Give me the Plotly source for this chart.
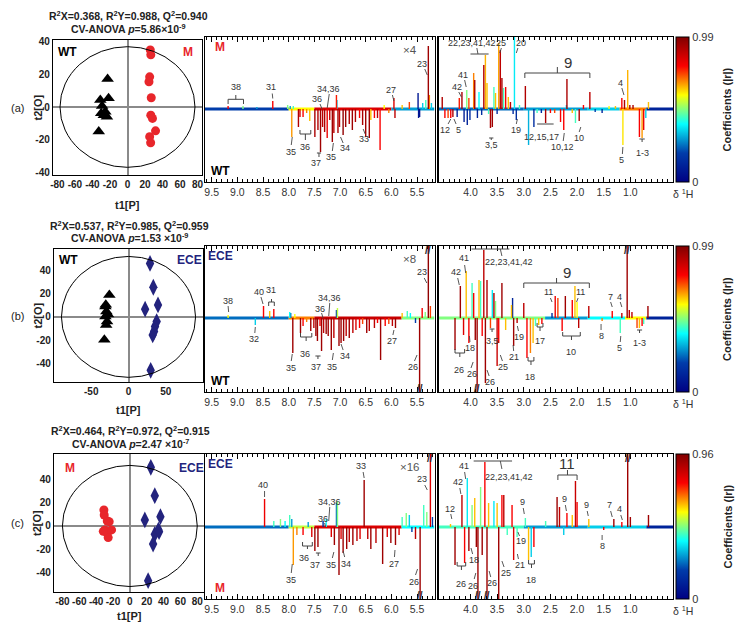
import plotly.graph_objects as go
from plotly.colors import sample_colorscale

W, H = 737, 622
FONT = "Liberation Sans, Arial, sans-serif"
GRAY = "#333333"

def px(x):
    return x / W

def py(y):
    return 1 - y / H

# ---------------- score plot data ----------------
a_wt_x = [-22.7, -21.6, -31, -29, -30, -25.3, -23.5, -27, -32.8]
a_wt_y = [17.2, 5.3, 4.3, 0.6, -3.9, -2.9, -6, -5, -15]
a_m_x = [26, 26.6, 25.3, 24.5, 27.1, 26.6, 28.5, 32, 25.3, 26.4]
a_m_y = [35, 32, 18.5, 15.5, 5.7, -5, -7, -14.6, -18.2, -21.9]

b_wt_x = [-25.7, -31, -29.7, -31, -28.8, -30, -27.5, -32.4, -30.5]
b_wt_y = [18.9, 8.9, 4.6, 0.3, -4, -7, 2, -19.7, 10.5]
b_ece_x = [28.9, 33.3, 39.6, 22.3, 37.8, 35.6, 34.3, 32.5, 29.8]
b_ece_y = [46, 25.5, 10.3, 6.6, -4, -8.3, -12.6, -15.5, -46]

c_m_x = [-30.8, -30.4, -26.8, -24.5, -29.6, -21.7, -26.8, -25.7, -31.5]
c_m_y = [13.7, 9.4, 4.3, 3.7, -3.4, -3.4, -6.3, -10, -4.6]
c_ece_x = [24.9, 29.6, 36.3, 17.8, 34.7, 29.6, 27.6, 21.7, 33.9]
c_ece_y = [50.4, 26, 8, 5.2, -4.9, -7.2, -15.5, -47, -3.5]

ellipse_rx = [77, 90, 80]
ellipse_ry = [37, 52, 52]

titles_line1 = ["R<sup>2</sup>X=0.368, R<sup>2</sup>Y=0.988, Q<sup>2</sup>=0.940",
                "R<sup>2</sup>X=0.537, R<sup>2</sup>Y=0.985, Q<sup>2</sup>=0.959",
                "R<sup>2</sup>X=0.464, R<sup>2</sup>Y=0.972, Q<sup>2</sup>=0.915"]
titles_line2 = ["CV-ANOVA <i>p</i>=5.86×10<sup>-9</sup>",
                "CV-ANOVA <i>p</i>=1.53 ×10<sup>-9</sup>",
                "CV-ANOVA <i>p</i>=2.47 ×10<sup>-7</sup>"]
cbar_max = [0.99, 0.99, 0.96]
scale_factors = ["×4", "×8", "×16"]

# ---------------- loading (spectral) data: ppm, intensity, |r| ----------------
aL_ppm = [9.18, 8.89, 8.62, 8.31, 8.02, 7.97, 7.94, 7.91, 7.81, 7.78, 7.72, 7.65, 7.59, 7.49, 7.43, 7.38, 7.34, 7.30,
          7.25, 7.20, 7.15, 7.12, 7.07, 7.06, 7.04, 7.01, 6.94, 6.89, 6.82, 6.76, 6.70, 6.62, 6.56, 6.50, 6.43, 6.40,
          6.33, 6.27, 6.22, 6.14, 6.05, 5.95, 5.93, 5.79, 5.65, 5.48, 5.47, 5.45, 5.39, 5.33, 5.28, 5.26, 5.22]
aL_int = [3, 3, 2, 8, 4, 3, -28, 3, -18, -8, -8, -4, -12, -28, -21, -43, -18, -23,
          -29, -11, -33, -24, 14, 9, -24, -18, -26, -18, -15, -21, -13, -9, -16, -28, -29, -11,
          -9, -9, -41, 4, -4, 11, -9, 4, 7, 16, -9, -8, 6, 9, 63, 14, 6]
aL_r = [0.8, 0.5, 0.3, 0.8, 0.5, 0.3, 0.68, 0.45, 0.92, 0.85, 0.8, 0.7, 0.65, 0.93, 0.92, 0.95, 0.9, 0.93,
        0.82, 0.9, 0.95, 0.9, 0.78, 0.35, 0.93, 0.9, 0.97, 0.95, 0.92, 0.95, 0.92, 0.8, 0.93, 0.95, 0.95, 0.65,
        0.8, 0.9, 0.8, 0.6, 0.7, 0.85, 0.9, 0.65, 0.75, 0.08, 0.08, 0.05, 0.35, 0.45, 0.95, 0.7, 0.35]

aR_ppm = [4.53, 4.48, 4.42, 4.37, 4.33, 4.25, 4.21, 4.16, 4.12, 4.07, 4.06, 4.03, 4.01, 3.94, 3.92, 3.87, 3.84, 3.79,
          3.75, 3.72, 3.69, 3.66, 3.625, 3.59, 3.56, 3.53, 3.50, 3.47, 3.44, 3.41, 3.38, 3.34, 3.29, 3.25, 3.20, 3.175,
          3.14, 3.08, 2.97, 2.91, 2.81, 2.75, 2.67, 2.59, 2.50, 2.42, 2.31, 2.25, 2.20, 2.19, 2.09, 2.03, 1.96, 1.88,
          1.76, 1.66, 1.53, 1.40, 1.28, 1.16, 1.14, 1.11, 1.05, 1.01, 0.95, 0.83, 0.78, 0.75, 0.71, 0.66]
aR_int = [12, -9, -9, -9, -8, -8, 11, 17, -13, 19, -16, 11, -11, 36, 29, -9, 17, -6,
          44, 54, 26, -5, -19, -18, 22, 16, -5, 66, 59, 31, 21, 22, 12, 7, -5, 90,
          -11, 4, 23, -36, -18, -4, -4, -14, -4, -4, -13, -21, 4, 30, -4, -14, -12, 4,
          17, -3, -4, 3, 3, 11, -36, 9, 39, 4, 4, -28, -29, -21, -9, 7]
aR_r = [0.92, 0.8, 0.75, 0.8, 0.92, 0.1, 0.78, 0.93, 0.1, 0.5, 0.12, 0.75, 0.15, 0.7, 0.93, 0.12, 0.4, 0.15,
        0.92, 0.66, 0.65, 0.45, 0.93, 0.95, 0.45, 0.65, 0.15, 0.67, 0.9, 0.93, 0.45, 0.8, 0.65, 0.9, 0.15, 0.38,
        0.15, 0.45, 0.92, 0.32, 0.15, 0.45, 0.15, 0.93, 0.8, 0.75, 0.8, 0.8, 0.35, 0.93, 0.65, 0.45, 0.93, 0.8,
        0.9, 0.2, 0.12, 0.6, 0.65, 0.8, 0.62, 0.93, 0.66, 0.93, 0.93, 0.8, 0.68, 0.82, 0.35, 0.65]

bL_ppm = [9.18, 8.65, 8.49, 8.37, 8.29, 7.98, 7.96, 7.92, 7.88, 7.77, 7.72, 7.65, 7.57, 7.51, 7.47, 7.44, 7.39, 7.36,
          7.32, 7.27, 7.23, 7.17, 7.12, 7.07, 7.05, 7.02, 6.98, 6.93, 6.88, 6.82, 6.75, 6.69, 6.62, 6.56, 6.48, 6.43,
          6.33, 6.27, 6.21, 6.12, 6.05, 5.98, 5.92, 5.79, 5.69, 5.63, 5.53, 5.45, 5.40, 5.34, 5.28, 5.24]
bL_int = [3, -7, 12, 7, 9, 6, 5, -35, 4, -15, -8, -4, -13, -10, -18, -23, -8, -33,
          -15, -16, -18, -32, -20, 8, 10, -28, -25, -23, -18, -20, -15, -12, -10, -6, -15, -13,
          -10, -5, -42, -8, -6, -8, -10, 5, 7, 5, -5, -90, 10, 6, 90, 12]
bL_r = [0.6, 0.35, 0.8, 0.65, 0.8, 0.4, 0.25, 0.95, 0.6, 0.95, 0.8, 0.7, 0.95, 0.9, 0.95, 0.95, 0.8, 0.95,
        0.9, 0.95, 0.95, 0.95, 0.9, 0.2, 0.55, 0.95, 0.95, 0.95, 0.9, 0.95, 0.9, 0.85, 0.8, 0.75, 0.95, 0.9,
        0.9, 0.8, 0.95, 0.8, 0.75, 0.9, 0.95, 0.65, 0.45, 0.4, 0.2, 0.95, 0.8, 0.5, 0.97, 0.75]

bR_ppm = [4.29, 4.19, 4.13, 4.08, 4.03, 3.97, 3.94, 3.91, 3.875, 3.84, 3.81, 3.78, 3.75, 3.72, 3.69, 3.625, 3.59,
          3.56, 3.53, 3.50, 3.47, 3.41, 3.34, 3.23, 3.21, 3.19, 3.125, 3.00, 2.94, 2.875, 2.825, 2.78, 2.72, 2.66,
          2.47, 2.41, 2.36, 2.28, 2.22, 2.09, 2.04, 2.00, 1.97, 1.78, 1.53, 1.34, 1.19, 1.16, 1.06, 1.02, 0.97,
          0.875, 0.83, 0.78, 0.75, 0.67]
bR_int = [-32, 32, -17, 47, -25, 35, 25, -22, -90, 38, 37, -18, 68, -65, 38, -10, 28,
          25, 17, -48, -25, 35, -12, 13, 20, -28, -5, 15, -40, -35, -25, -8, -7, -6,
          5, 22, 20, -13, 22, 18, 32, 16, -10, 12, -3, 7, -15, 5, 90, 8, 6,
          -10, -10, -8, -6, 12]
bR_r = [0.95, 0.95, 0.85, 0.65, 0.8, 0.45, 0.8, 0.95, 0.95, 0.65, 0.45, 0.8, 0.9, 0.95, 0.92, 0.75, 0.38,
        0.93, 0.5, 0.88, 0.8, 0.95, 0.65, 0.65, 0.12, 0.95, 0.9, 0.9, 0.8, 0.7, 0.65, 0.45, 0.65, 0.8,
        0.15, 0.82, 0.75, 0.8, 0.95, 0.8, 0.65, 0.6, 0.9, 0.9, 0.7, 0.8, 0.45, 0.9, 0.95, 0.9, 0.9,
        0.75, 0.65, 0.8, 0.45, 0.95]

cL_ppm = [8.47, 8.29, 8.16, 8.07, 7.98, 7.94, 7.91, 7.84, 7.72, 7.62, 7.55, 7.49, 7.43, 7.33, 7.27, 7.17, 7.11,
          7.07, 7.05, 7.02, 6.98, 6.94, 6.87, 6.82, 6.75, 6.67, 6.61, 6.53, 6.46, 6.40, 6.30, 6.17, 6.08, 6.01,
          5.92, 5.85, 5.79, 5.71, 5.65, 5.60, 5.53, 5.44, 5.37, 5.31, 5.24, 5.20]
cL_int = [28, 6, 8, 6, 12, 8, -38, -8, -8, 5, -10, -24, -20, 6, 8, -10, -18,
          24, 26, -48, -12, -26, -22, -15, -18, -14, -12, 47, -12, -22, -16, -37, -10, -16,
          -18, -8, 10, 14, 12, -5, -12, -90, 22, 15, 90, 10]
cL_r = [0.82, 0.45, 0.5, 0.4, 0.45, 0.3, 0.68, 0.7, 0.8, 0.3, 0.85, 0.95, 0.95, 0.15, 0.4, 0.85, 0.95,
        0.25, 0.5, 0.95, 0.85, 0.95, 0.95, 0.9, 0.95, 0.9, 0.85, 0.95, 0.9, 0.95, 0.9, 0.95, 0.85, 0.95,
        0.95, 0.85, 0.45, 0.5, 0.35, 0.2, 0.9, 0.95, 0.45, 0.5, 0.85, 0.2]

cR_ppm = [4.375, 4.29, 4.16, 4.11, 4.06, 4.03, 3.97, 3.92, 3.89, 3.86, 3.81, 3.78, 3.73, 3.69, 3.66, 3.56, 3.50,
          3.47, 3.41, 3.375, 3.31, 3.22, 3.19, 3.125, 2.97, 2.91, 2.86, 2.81, 2.59, 2.375, 2.33, 2.25, 2.19, 2.09,
          2.03, 2.00, 1.78, 1.50, 1.31, 1.16, 1.05, 1.00, 0.66]
cR_int = [3, -38, 32, -36, 49, -24, 22, 29, -20, -90, 40, -28, 65, -90, 24, 26, 24,
          -90, 32, 32, -8, 22, -33, -10, 9, -33, -30, -20, 6, 30, 20, -8, 14, 12,
          46, 25, 8, -3, 8, 5, 90, 10, 12]
cR_r = [0.65, 0.95, 0.9, 0.8, 0.38, 0.95, 0.5, 0.65, 0.95, 0.95, 0.5, 0.95, 0.8, 0.95, 0.65, 0.38, 0.65,
        0.95, 0.8, 0.9, 0.45, 0.8, 0.85, 0.45, 0.45, 0.65, 0.35, 0.8, 0.45, 0.95, 0.9, 0.35, 0.8, 0.65,
        0.88, 0.8, 0.65, 0.8, 0.95, 0.8, 0.95, 0.95, 0.95]

# baseline segments: start ppm, end ppm, |r|
aL_base = [(9.63, 8.0, 0.2), (8.0, 7.5, 0.6), (7.5, 6.0, 0.85), (6.0, 5.16, 0.3)]
aR_base = [(4.6, 3.0, 0.25), (3.0, 1.8, 0.3), (1.8, 1.2, 0.35), (1.2, 0.7, 0.7), (0.7, 0.2, 0.12)]
bL_base = [(9.63, 8.0, 0.25), (8.0, 7.5, 0.7), (7.5, 5.8, 0.88), (5.8, 5.16, 0.5)]
bR_base = [(4.6, 3.0, 0.5), (3.0, 2.6, 0.5), (2.6, 1.8, 0.3), (1.8, 1.1, 0.4), (1.1, 0.7, 0.6), (0.7, 0.2, 0.12)]
cL_base = [(9.63, 8.0, 0.25), (8.0, 7.5, 0.55), (7.5, 5.8, 0.85), (5.8, 5.16, 0.4)]
cR_base = [(4.6, 3.0, 0.45), (3.0, 1.8, 0.3), (1.8, 0.7, 0.35), (0.7, 0.2, 0.12)]

left_ticks = [9.5, 9.0, 8.5, 8.0, 7.5, 7.0, 6.5, 6.0, 5.5]
right_ticks = [4.0, 3.5, 3.0, 2.5, 2.0, 1.5, 1.0]

# ---------------- annotation specs ----------------
labels = {
    "aL": [(9.03, 22, "38"), (8.34, 22, "31"), (7.22, 20, "34,36"), (7.44, 10, "36"), (6.0, 19, "27"),
           (5.4, 45, "23"), (7.96, -43, "35"), (7.68, -38, "36"), (7.46, -54, "37"), (7.17, -48, "35"),
           (6.91, -39, "34"), (6.53, -30, "33")],
    "aR": [(3.97, 66, "22,23,41,42"), (3.42, 66, "25"), (3.05, 66, "20"), (4.14, 34, "41"), (4.25, 22, "42"),
           (4.47, -21, "12"), (4.23, -21, "5"), (3.61, -36, "3,5"), (3.14, -21, "19"), (2.66, -28, "12,15,17"),
           (2.28, -38, "10,12"), (1.96, -29, "10"), (1.18, 26, "4"), (1.16, -51, "5"), (0.78, -44, "1-3")],
    "bL": [(5.4, 46, "23"), (9.19, 17, "38"), (8.58, 26, "40"), (8.34, 28, "31"), (7.2, 20, "34,36"),
           (7.39, 9, "36"), (8.67, -21, "32"), (7.96, -50, "35"), (7.68, -36, "36"), (7.46, -49, "37"),
           (7.16, -49, "35"), (6.91, -38, "34"), (5.98, -23, "27"), (5.58, -49, "26")],
    "bR": [(3.27, 56, "22,23,41,42"), (4.13, 60, "41"), (4.27, 46, "42"), (2.53, 26, "11"), (1.94, 26, "11"),
           (1.38, 21, "7"), (1.2, 21, "4"), (4.0, -30, "18"), (4.21, -52, "26"), (3.98, -56, "26"),
           (3.63, -64, "26"), (3.59, -23, "3,5"), (3.09, -19, "19"), (3.18, -39, "21"), (3.39, -49, "25"),
           (2.875, -59, "18"), (2.7, -23, "17"), (2.11, -34, "10"), (1.55, -18, "8"), (1.2, -30, "5"),
           (0.83, -25, "1-3")],
    "cL": [(5.4, 48, "23"), (8.5, 42, "40"), (6.6, 61, "33"), (7.2, 25, "34,36"), (7.34, 8, "36"),
           (7.95, -53, "35"), (7.71, -31, "36"), (7.49, -38, "37"), (7.17, -38, "35"), (6.88, -37, "34"),
           (5.94, -37, "27"), (5.56, -55, "26")],
    "cR": [(4.39, 18, "12"), (4.23, 45, "42"), (4.13, 61, "41"), (3.27, 50, "22,23,41,42"), (3.03, 25, "9"),
           (2.24, 28, "9"), (1.83, 22, "9"), (1.39, 22, "7"), (1.2, 18, "4"), (3.94, -33, "18"),
           (4.18, -57, "26"), (3.96, -59, "26"), (3.59, -56, "26"), (3.34, -46, "25"), (3.05, -14, "19"),
           (3.08, -38, "21"), (2.86, -53, "18"), (1.53, -19, "8")],
}
big_labels = {"aR": [(2.175, 46, "9")], "bR": [(2.19, 46, "9")], "cR": [(2.19, 64, "11")]}
# brackets: ppm0, ppm1, level, end-tick length, centre-stem length
brackets = {
    "aL": [(9.18, 8.88, 9.7, -4.7, 4.3), (7.78, 7.57, -25, 4, -6), (7.45, 7.37, -44, 0, -4)],
    "aR": [(4.0, 3.66, 55, 0, 0), (2.98, 1.76, 36, -5, 6), (2.75, 2.44, -15, 0, 0), (3.65, 3.57, -29, 0, -2),
           (0.83, 0.73, -30, 0, -3)],
    "bL": [(8.39, 8.28, 16, -4, 3), (7.77, 7.55, -19, 4, -4), (7.48, 7.38, -38, 0, -3)],
    "bR": [(3.98, 3.27, 69, 0, 0), (3.0, 1.77, 35, -5, 5), (4.29, 4.11, -35, 4, -4), (3.64, 3.55, -11, 0, -3),
           (2.92, 2.81, -43, 4, -4), (2.75, 2.64, -9, 4, -4), (2.27, 1.94, -18, 4, -4), (0.875, 0.78, -12, 0, -3)],
    "cL": [(7.73, 7.54, -19, 4, -3), (7.47, 7.38, -26, 0, -3)],
    "cR": [(3.94, 3.22, 66, 0, 0), (2.36, 2.0, 52, -5, 5), (4.25, 4.09, -39, 4, -4), (2.91, 2.80, -37, 4, -4)],
}
leaders = {
    "aL": [(8.32, 15.5, 8.31, 10.5), (7.21, 15, 7.25, 1), (7.39, 5, 7.35, 0), (5.98, 14, 5.95, 8),
           (5.35, 40, 5.3, 34), (7.95, -36, 7.93, -28), (7.15, -42, 7.13, -34), (6.94, -34, 6.99, -28),
           (6.51, -25, 6.55, -20)],
    "aR": [(3.88, 61, 3.86, 55), (3.45, 56, 3.42, 61), (3.14, 56, 3.11, 61), (4.11, 29, 4.08, 22),
           (4.22, 17, 4.17, 12), (4.42, -15, 4.37, -10), (4.27, -15, 4.31, -10), (3.14, -15, 3.12, -10),
           (2.26, -32, 2.24, -24), (1.96, -23, 1.93, -18), (1.16, 21, 1.12, 14), (1.15, -45, 1.14, -38)],
    "bL": [(9.18, 12, 9.17, 6), (8.54, 21, 8.5, 14), (7.2, 15, 7.22, 2), (7.36, 5, 7.33, 0),
           (8.66, -15, 8.65, -9), (7.95, -43, 7.93, -36), (7.15, -42, 7.13, -35), (6.94, -32, 6.98, -26),
           (5.97, -17, 5.95, -12), (5.55, -43, 5.5, -37), (5.36, 40, 5.31, 35)],
    "bR": [(3.44, 69, 3.41, 62), (4.11, 53, 4.09, 45), (4.24, 40, 4.21, 33), (2.5, 20, 2.47, 16),
           (1.98, 20, 2.01, 16), (1.37, 16, 1.34, 11), (1.19, 16, 1.16, 11), (4.01, -24, 4.02, -18),
           (3.99, -50, 3.95, -44), (3.65, -58, 3.69, -52), (3.1, -13, 3.12, -8), (3.19, -33, 3.2, -27),
           (3.4, -43, 3.44, -37), (1.55, -12, 1.55, -6), (1.19, -24, 1.18, -18)],
    "cL": [(8.47, 36, 8.47, 30), (6.55, 55, 6.53, 49), (7.2, 20, 7.22, 6), (7.3, 4, 7.28, 0),
           (7.95, -46, 7.93, -37), (7.15, -31, 7.12, -25), (6.91, -30, 6.94, -24), (5.94, -30, 5.93, -23),
           (5.53, -48, 5.49, -42), (5.35, 42, 5.3, 37)],
    "cR": [(4.37, 13, 4.35, 8), (4.2, 39, 4.18, 33), (4.11, 55, 4.09, 48), (3.44, 66, 3.41, 58),
           (3.01, 19, 2.99, 13), (2.22, 22, 2.2, 16), (1.81, 16, 1.79, 11), (1.37, 16, 1.34, 10),
           (1.18, 12, 1.15, 7), (3.96, -27, 3.99, -21), (3.93, -52, 3.9, -46), (3.62, -50, 3.65, -44),
           (3.37, -40, 3.41, -34), (3.08, -9, 3.11, -5), (3.1, -32, 3.12, -27), (1.53, -13, 1.53, -8)],
}
breaks = {"bL": [(5.45, -1), (5.28, 1)], "bR": [(3.875, -1), (1.06, 1)],
          "cL": [(5.44, -1), (5.24, 1)], "cR": [(3.86, -1), (3.69, -1), (1.05, 1)]}

# ---------------- layout geometry (pixels) ----------------
score_box = [(53, 202, 40, 175), (54, 203, 249, 382), (54, 204, 454, 592)]
score_xr = [[-85, 85], [-100, 100], [-90, 88]]
score_yr = [[-41.7, 41.1], [-56, 58.4], [-56.7, 61.8]]
score_xt = [[-80, -60, -40, -20, 0, 20, 40, 60, 80], [-50, 0, 50], [-80, -60, -40, -20, 0, 20, 40, 60, 80]]
score_yt = [-40, -20, 0, 20, 40]
t1_y = [205, 410, 616]
spec_y = [(37, 182), (246, 392), (454, 599)]
spec_yr = [[-73, 72], [-74, 72], [-72, 73]]
specL_x = (205, 434.5)
specR_x = (438.5, 673)
cbar_x = (676, 689)

fig = go.Figure()
layout = dict(width=W, height=H, margin=dict(l=0, r=0, t=0, b=0, pad=0, autoexpand=False),
              paper_bgcolor="white", plot_bgcolor="white", showlegend=False,
              font=dict(family=FONT, color=GRAY))
annotations = []
shapes = []

def aname(k, a):
    return f"{a}axis" if k == 1 else f"{a}axis{k}"

def rname(k, a):
    return a if k == 1 else f"{a}{k}"

def note(x, y, text, size=10, color=GRAY, xref="paper", yref="paper", angle=0):
    annotations.append(dict(x=x, y=y, xref=xref, yref=yref, text=text, showarrow=False, textangle=angle,
                            xanchor="center", yanchor="middle", font=dict(size=size, color=color, family=FONT)))

panel_data = {
    "aL": (aL_ppm, aL_int, aL_r, aL_base), "aR": (aR_ppm, aR_int, aR_r, aR_base),
    "bL": (bL_ppm, bL_int, bL_r, bL_base), "bR": (bR_ppm, bR_int, bR_r, bR_base),
    "cL": (cL_ppm, cL_int, cL_r, cL_base), "cR": (cR_ppm, cR_int, cR_r, cR_base),
}
row_keys = ["a", "b", "c"]
score_sets = [
    [(a_wt_x, a_wt_y, "triangle-up", "black", 11), (a_m_x, a_m_y, "circle", "#e8262b", 9)],
    [(b_wt_x, b_wt_y, "triangle-up", "black", 11), (b_ece_x, b_ece_y, "diamond-tall", "#23237d", 12)],
    [(c_m_x, c_m_y, "circle", "#e8262b", 9), (c_ece_x, c_ece_y, "diamond-tall", "#23237d", 12)],
]
group_labels = [
    [(-69, 34, "WT", "black"), (69, 34, "M", "#e8262b")],
    [(-80, 49, "WT", "black"), (82, 49, "ECE", "#23237d")],
    [(-71, 50, "M", "#e8262b"), (73, 50, "ECE", "#23237d")],
]
spec_group_labels = [("M", "#e8262b", "WT", "black"), ("ECE", "#23237d", "WT", "black"),
                     ("ECE", "#23237d", "M", "#e8262b")]

def col(r):
    return sample_colorscale("Jet", [r])[0]

def hy(v):
    return str(v).replace("−", "-")

for ri, rk in enumerate(row_keys):
    # ---- score plot ----
    k = ri * 3 + 1
    x0, x1, y0, y1 = score_box[ri]
    tf = dict(size=10, color="#222", family=FONT, weight="bold")
    layout[aname(k, "x")] = dict(domain=[px(x0), px(x1)], range=score_xr[ri], anchor=rname(k, "y"),
                                 showline=True, mirror=True, linecolor="black", linewidth=1.2,
                                 showgrid=False, zeroline=True, zerolinecolor="#8a8a8a", zerolinewidth=2,
                                 tickvals=score_xt[ri], ticktext=[hy(v) for v in score_xt[ri]],
                                 ticks="", tickangle=0, tickfont=tf, automargin=False)
    layout[aname(k, "y")] = dict(domain=[py(y1), py(y0)], range=score_yr[ri], anchor=rname(k, "x"),
                                 showline=True, mirror=True, linecolor="black", linewidth=1.2,
                                 showgrid=False, zeroline=True, zerolinecolor="#8a8a8a", zerolinewidth=2,
                                 tickvals=score_yt, ticktext=[hy(v) for v in score_yt],
                                 ticks="", tickfont=tf, automargin=False)
    shapes.append(dict(type="circle", xref=rname(k, "x"), yref=rname(k, "y"),
                       x0=-ellipse_rx[ri], x1=ellipse_rx[ri], y0=-ellipse_ry[ri], y1=ellipse_ry[ri],
                       line=dict(color="black", width=1)))
    for xs, ys, sym, c, sz in score_sets[ri]:
        fig.add_trace(go.Scatter(x=xs, y=ys, mode="markers", xaxis=rname(k, "x"), yaxis=rname(k, "y"),
                                 marker=dict(symbol=sym, color=c, size=sz, line=dict(width=0)),
                                 hoverinfo="skip"))
    for gx, gy, gt, gc in group_labels[ri]:
        note(gx, gy, f"<b>{gt}</b>", 12, gc, rname(k, "x"), rname(k, "y"))
    cx = (x0 + x1) / 2 + 1
    note(px(cx), py(y0 - 24), f"<b>{titles_line1[ri]}</b>", 10.5, "#222")
    note(px(cx), py(y0 - 11), f"<b>{titles_line2[ri]}</b>", 10.5, "#222")
    note(px(17), py((y0 + y1) / 2), f"({rk})", 11, "#222")
    note(px((x0 + x1) / 2), py(t1_y[ri]), "<b>t1[P]</b>", 11, "#222")
    note(px(37), py((y0 + y1) / 2), "<b>t2[O]</b>", 11, "#222", angle=-90)

    # ---- spectra ----
    sy0, sy1 = spec_y[ri]
    for j, side in enumerate(["L", "R"]):
        k = ri * 3 + 2 + j
        key = rk + side
        xdom = specL_x if side == "L" else specR_x
        xr = [9.63, 5.16] if side == "L" else [4.6, 0.2]
        tks = left_ticks if side == "L" else right_ticks
        layout[aname(k, "x")] = dict(domain=[px(xdom[0]), px(xdom[1])], range=xr, anchor=rname(k, "y"),
                                     showline=True, mirror="ticks", linecolor="black", linewidth=1.3,
                                     showgrid=False, zeroline=False, automargin=False,
                                     tickvals=tks, ticktext=[f"{v:.1f}" for v in tks], tickangle=0,
                                     ticks="inside", ticklen=5, tickcolor="black", tickwidth=1,
                                     minor=dict(tickmode="linear", tick0=0, dtick=0.1, ticks="inside",
                                                ticklen=3, tickcolor="black", tickwidth=1),
                                     tickfont=dict(size=10.5, color=GRAY, family=FONT))
        layout[aname(k, "y")] = dict(domain=[py(sy1), py(sy0)], range=spec_yr[ri], anchor=rname(k, "x"),
                                     showline=True, mirror=True, linecolor="black", linewidth=1.3,
                                     showgrid=False, zeroline=False, showticklabels=False, ticks="",
                                     automargin=False)
        ppm, inten, rr, base = panel_data[key]
        xa, ya = rname(k, "x"), rname(k, "y")
        for b0, b1, br in base:
            fig.add_trace(go.Scatter(x=[b0, b1], y=[0, 0], mode="lines", xaxis=xa, yaxis=ya,
                                     line=dict(color=col(br), width=3), hoverinfo="skip"))
        groups = {}
        for p, h, r in zip(ppm, inten, rr):
            groups.setdefault(r, []).append((p, h))
        for r in sorted(groups):
            xs, ys = [], []
            for p, h in groups[r]:
                xs += [p, p, None]
                ys += [0, h, None]
            fig.add_trace(go.Scatter(x=xs, y=ys, mode="lines", xaxis=xa, yaxis=ya,
                                     line=dict(color=col(r), width=1.4), hoverinfo="skip"))
        for lx, ly, lt in labels.get(key, []):
            note(lx, ly, lt, 9, GRAY, xa, ya)
        for lx, ly, lt in big_labels.get(key, []):
            note(lx, ly, lt, 15, GRAY, xa, ya)
        for p0, p1, lv, e, s in brackets.get(key, []):
            shapes.append(dict(type="line", xref=xa, yref=ya, x0=p0, x1=p1, y0=lv, y1=lv,
                               line=dict(color="#444", width=1)))
            if e:
                for pe in (p0, p1):
                    shapes.append(dict(type="line", xref=xa, yref=ya, x0=pe, x1=pe, y0=lv, y1=lv + e,
                                       line=dict(color="#444", width=1)))
            if s:
                pm = (p0 + p1) / 2
                shapes.append(dict(type="line", xref=xa, yref=ya, x0=pm, x1=pm, y0=lv, y1=lv + s,
                                   line=dict(color="#444", width=1)))
        for a0, h0, a1, h1 in leaders.get(key, []):
            shapes.append(dict(type="line", xref=xa, yref=ya, x0=a0, x1=a1, y0=h0, y1=h1,
                               line=dict(color="#444", width=0.9)))
        for bp, bsgn in breaks.get(key, []):
            yb = (spec_yr[ri][1] - 4) if bsgn > 0 else (spec_yr[ri][0] + 4)
            note(bp, yb, "<b>//</b>", 10, "#222", xa, ya)
        if side == "L":
            tl, tc, bl, bc = spec_group_labels[ri]
            note(9.33, spec_yr[ri][1] - 10, f"<b>{tl}</b>", 12, tc, xa, ya)
            note(9.33, spec_yr[ri][0] + 11, f"<b>{bl}</b>", 12, bc, xa, ya)
            note(5.64, spec_yr[ri][1] - 13, scale_factors[ri], 11.5, "#555", xa, ya)
    # delta label
    note(px(683), py(sy1 + 11), "δ <sup>1</sup>H", 10.5, GRAY)
    # colour bar
    cm = cbar_max[ri]
    fig.add_trace(go.Scatter(x=[0], y=[500], mode="markers", xaxis=rname(ri * 3 + 1, "x"),
                             yaxis=rname(ri * 3 + 1, "y"), hoverinfo="skip",
                             marker=dict(size=1, opacity=0, color=[0], colorscale="Jet", cmin=0, cmax=cm,
                                         showscale=True,
                                         colorbar=dict(x=px(cbar_x[0]), xanchor="left", xref="paper",
                                                       y=py((sy0 + sy1) / 2), yanchor="middle", yref="paper",
                                                       len=(sy1 - sy0) / H, lenmode="fraction",
                                                       thickness=cbar_x[1] - cbar_x[0], thicknessmode="pixels",
                                                       outlinewidth=1, outlinecolor="black",
                                                       tickvals=[0, cm], ticktext=["0", f"{cm:.2f}"],
                                                       ticks="", tickfont=dict(size=11, color=GRAY, family=FONT),
                                                       xpad=0, ypad=0))))
    for i in range(1, 10):
        yy = sy1 - (sy1 - sy0) * i / 10 / cm
        for xe, dx in ((cbar_x[0], 3), (cbar_x[1], -3)):
            shapes.append(dict(type="line", xref="paper", yref="paper", x0=px(xe), x1=px(xe + dx),
                               y0=py(yy), y1=py(yy), line=dict(color="#333", width=0.8)))
    note(px(727), py((sy0 + sy1) / 2), "<b>Coefficients (|r|)</b>", 11, "#222", angle=-90)

layout["annotations"] = annotations
layout["shapes"] = shapes
fig.update_layout(**layout)
fig.write_html("out.html", config={"displayModeBar": False, "staticPlot": True},
               post_script="document.body.style.margin='0px';document.body.style.padding='0px';")
